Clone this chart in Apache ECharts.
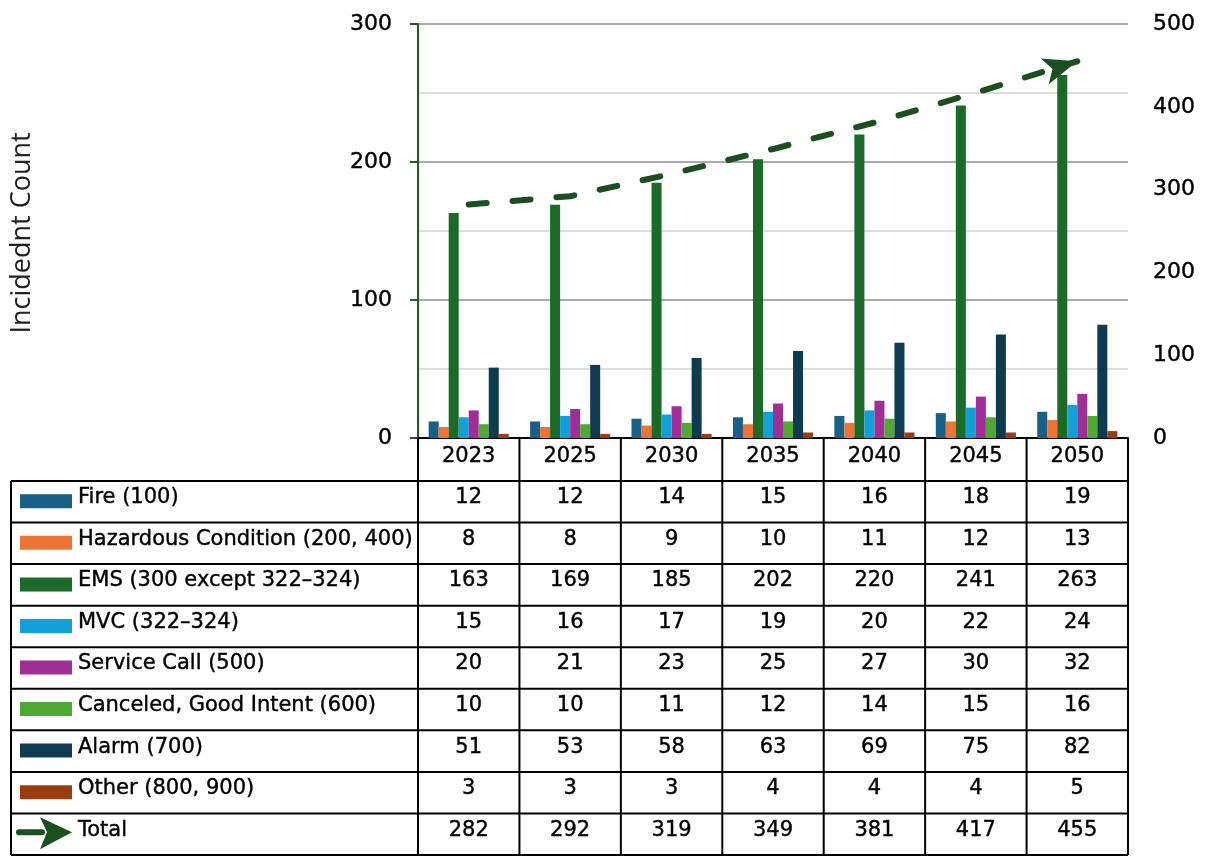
<!DOCTYPE html>
<html>
<head>
<meta charset="utf-8">
<title>Incident Count Projection</title>
<script src="https://cdn.jsdelivr.net/npm/echarts@6/dist/echarts.min.js"></script>
<style>
  html, body { margin: 0; padding: 0; background: #ffffff; }
  #chart { width: 1210px; height: 856px; }
</style>
</head>
<body>
<div id="chart"></div>
<script>
// ---- Data ----
const years = ['2023', '2025', '2030', '2035', '2040', '2045', '2050'];

const fire        = [12, 12, 14, 15, 16, 18, 19];
const hazardous   = [8, 8, 9, 10, 11, 12, 13];
const ems         = [163, 169, 185, 202, 220, 241, 263];
const mvc         = [15, 16, 17, 19, 20, 22, 24];
const serviceCall = [20, 21, 23, 25, 27, 30, 32];
const canceled    = [10, 10, 11, 12, 14, 15, 16];
const alarm       = [51, 53, 58, 63, 69, 75, 82];
const other       = [3, 3, 3, 4, 4, 4, 5];
const total       = [282, 292, 319, 349, 381, 417, 455];

const seriesNames = [
  'Fire (100)',
  'Hazardous Condition (200, 400)',
  'EMS (300 except 322–324)',
  'MVC (322–324)',
  'Service Call (500)',
  'Canceled, Good Intent (600)',
  'Alarm (700)',
  'Other (800, 900)'
];
const totalName = 'Total';

const leftAxisTicks = { min: 0, max: 300, interval: 100 };
const rightAxisTicks = { min: 0, max: 500, interval: 100 };
const axisTitle = 'Incidednt Count';

// ---- Styling ----
const seriesValues = [fire, hazardous, ems, mvc, serviceCall, canceled, alarm, other];
const seriesColors = ['#1a5f85', '#ec7434', '#1b6a27', '#12a0da', '#a12e96', '#4fa933', '#0f3a50', '#9a3e12'];
const TOTAL_COLOR = '#1c4f20';
const AXIS_GREEN = '#1b5e20';
const FONT = '"DejaVu Sans", sans-serif';
const ARROW_PATH = 'path://M0,0 L34,13.5 L0,27 L8,13.5 Z';

const chart = echarts.init(document.getElementById('chart'), null, { renderer: 'canvas' });

const barSeries = seriesNames.map((name, i) => ({
  name,
  type: 'bar',
  yAxisIndex: 0,
  data: seriesValues[i],
  itemStyle: { color: seriesColors[i] },
  barGap: '0%',
  barCategoryGap: '21%'
}));

const lineSeries = {
  name: totalName,
  type: 'line',
  yAxisIndex: 1,
  data: total,
  symbol: 'none',
  showSymbol: true,
  z: 5,
  lineStyle: { color: TOTAL_COLOR, width: 6, type: [18, 26], cap: 'round' },
  itemStyle: { color: TOTAL_COLOR }
};

// slightly heavier text strokes
const axisText = { color: '#000', fontSize: 22, fontFamily: FONT, textBorderColor: '#000', textBorderWidth: 0.4 };

chart.setOption({
  animation: false,
  grid: { left: 418, right: 82, top: 24, bottom: 418, containLabel: false },
  xAxis: {
    type: 'category',
    data: years,
    axisLine: { lineStyle: { color: '#000', width: 2 } },
    axisTick: { show: false },
    axisLabel: Object.assign({}, axisText, { fontSize: 21, margin: 19, verticalAlign: 'middle' }),
    splitLine: { show: false }
  },
  yAxis: [
    {
      type: 'value',
      min: leftAxisTicks.min, max: leftAxisTicks.max, interval: leftAxisTicks.interval,
      axisLine: { show: true, lineStyle: { color: AXIS_GREEN, width: 2 } },
      axisTick: { show: true, length: 8, lineStyle: { color: AXIS_GREEN, width: 2 } },
      axisLabel: Object.assign({}, axisText, { margin: 26 }),
      splitLine: { show: true, lineStyle: { color: '#8f8f8f', width: 1.5 } },
      minorTick: { show: false, splitNumber: 2 },
      minorSplitLine: { show: true, lineStyle: { color: '#d2d2d2', width: 1.5 } }
    },
    {
      type: 'value',
      position: 'right',
      min: rightAxisTicks.min, max: rightAxisTicks.max, interval: rightAxisTicks.interval,
      axisLine: { show: false },
      axisTick: { show: false },
      splitLine: { show: false },
      axisLabel: Object.assign({}, axisText, { margin: 25, align: 'left' })
    }
  ],
  series: [...barSeries, lineSeries]
});

// ---- Arrow head at the end of the total line ----
const lastIdx = total.length - 1;
const pA = chart.convertToPixel({ seriesIndex: 8 }, [lastIdx - 1, total[lastIdx - 1]]);
const pB = chart.convertToPixel({ seriesIndex: 8 }, [lastIdx, total[lastIdx]]);
const theta = Math.atan2(pA[1] - pB[1], pB[0] - pA[0]);
const arrowHalf = 17;

chart.setOption({
  series: [{
    name: totalName,
    data: total.map((v, i) => i === lastIdx ? {
      value: v,
      symbol: ARROW_PATH,
      symbolSize: [34, 27],
      symbolRotate: theta * 180 / Math.PI,
      symbolOffset: [-arrowHalf * Math.cos(theta), arrowHalf * Math.sin(theta)],
      itemStyle: { color: TOTAL_COLOR }
    } : v)
  }]
});

// ---- Data table under the plot ----
const c0 = chart.convertToPixel({ xAxisIndex: 0 }, 0);
const c1 = chart.convertToPixel({ xAxisIndex: 0 }, 1);
const band = c1 - c0;
const colCenters = years.map((_, i) => chart.convertToPixel({ xAxisIndex: 0 }, i));
const colEdges = [c0 - band / 2].concat(colCenters.map(c => c + band / 2));
const yBase = chart.convertToPixel({ yAxisIndex: 0 }, 0);

const TABLE_LEFT = 11;
const HEADER_H = 43;
const TABLE_BOTTOM = 855;
const bodyTop = yBase + HEADER_H;
const rowCount = seriesNames.length + 1;
const rowH = (TABLE_BOTTOM - bodyTop) / rowCount;
const tableRight = colEdges[colEdges.length - 1];

const graphics = [];
const border = { stroke: '#000', lineWidth: 2 };

// horizontal rules
for (let r = 0; r <= rowCount; r++) {
  const y = bodyTop + r * rowH;
  graphics.push({ type: 'line', shape: { x1: TABLE_LEFT, y1: y, x2: tableRight, y2: y }, style: border, z: 10 });
}
// vertical rules
graphics.push({ type: 'line', shape: { x1: TABLE_LEFT, y1: bodyTop, x2: TABLE_LEFT, y2: TABLE_BOTTOM }, style: border, z: 10 });
colEdges.forEach(x => {
  graphics.push({ type: 'line', shape: { x1: x, y1: yBase, x2: x, y2: TABLE_BOTTOM }, style: border, z: 10 });
});

const textStyle = (text, x, y, align) => ({
  text, x, y,
  fill: '#000',
  stroke: '#000',
  lineWidth: 0.4,
  font: '21px ' + FONT,
  textAlign: align, align: align,
  textVerticalAlign: 'middle', verticalAlign: 'middle'
});

const rowsData = seriesValues.concat([total]);
const rowNames = seriesNames.concat([totalName]);

rowsData.forEach((vals, r) => {
  const cy = bodyTop + r * rowH + rowH / 2;
  // legend key
  if (r < seriesNames.length) {
    graphics.push({ type: 'rect', shape: { x: 20, y: cy - 7.5, width: 52, height: 14 }, style: { fill: seriesColors[r] }, z: 10 });
  } else {
    graphics.push({ type: 'line', shape: { x1: 19, y1: cy - 2, x2: 42, y2: cy - 2 }, style: { stroke: TOTAL_COLOR, lineWidth: 6, lineCap: 'round' }, z: 10 });
    graphics.push({ type: 'polygon', shape: { points: [[40, cy - 17], [72, cy - 2], [40, cy + 15], [47, cy - 2]] }, style: { fill: TOTAL_COLOR }, z: 11 });
  }
  graphics.push({ type: 'text', style: textStyle(rowNames[r], 78, cy - 4, 'left'), z: 10 });
  vals.forEach((v, i) => {
    graphics.push({ type: 'text', style: textStyle(String(v), colCenters[i], cy - 4, 'center'), z: 10 });
  });
});

// axis title
graphics.push({
  type: 'text',
  x: 22, y: 233,
  rotation: Math.PI / 2,
  style: {
    text: axisTitle, x: 0, y: 0,
    fill: '#222',
    font: '27px "Open Sans", sans-serif',
    textAlign: 'center', align: 'center',
    textVerticalAlign: 'middle', verticalAlign: 'middle'
  },
  z: 10
});

chart.setOption({ graphic: graphics });
</script>
</body>
</html>
